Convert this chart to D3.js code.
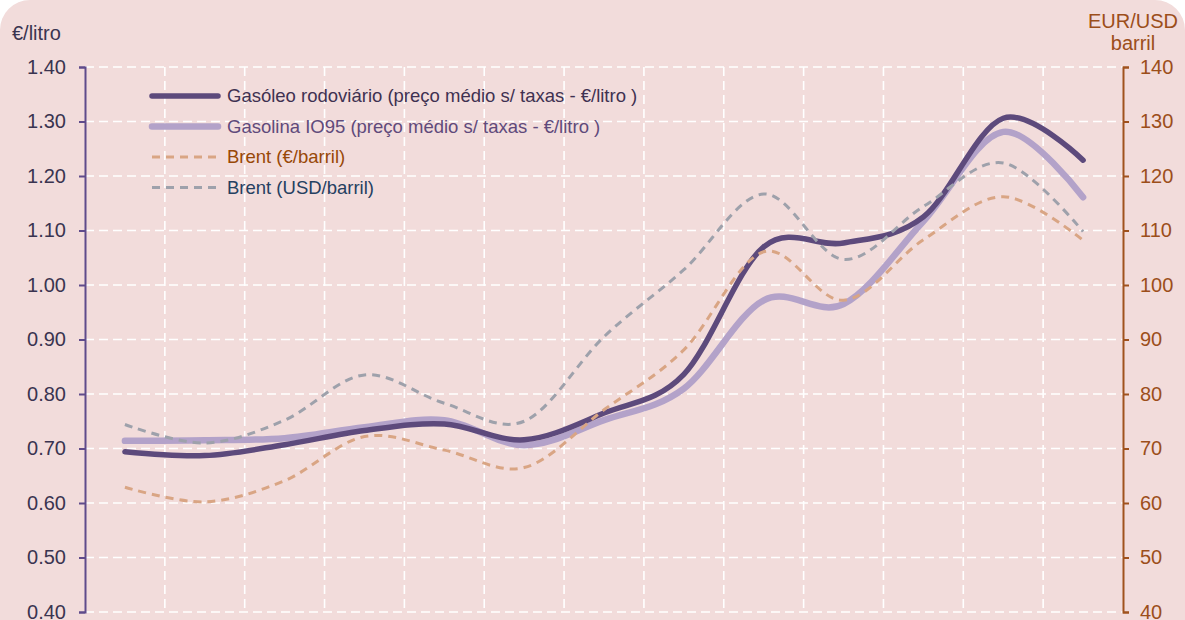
<!DOCTYPE html>
<html>
<head>
<meta charset="utf-8">
<script src="https://cdn.jsdelivr.net/npm/d3@7"></script>
<style>
  body { margin: 0; background: #fff; }
  svg { display: block; font-family: "Liberation Sans", Arial, sans-serif; }
</style>
</head>
<body>
<div id="chart"></div>
<script>
// data (x labels are not visible in the picture, 13 periods)
const categories = ["P1", "P2", "P3", "P4", "P5", "P6", "P7", "P8", "P9", "P10", "P11", "P12", "P13"];
const gasoleo = [0.694, 0.687, 0.707, 0.733, 0.745, 0.716, 0.765, 0.836, 1.07, 1.077, 1.125, 1.306, 1.229];
const gasolina = [0.714, 0.715, 0.719, 0.739, 0.752, 0.706, 0.752, 0.81, 0.972, 0.965, 1.117, 1.281, 1.161];
const brentEur = [62.9, 60.2, 64.1, 72.2, 69.7, 66.5, 77.1, 88.1, 106.1, 97.2, 108.3, 116.2, 108.2];
const brentUsd = [74.4, 71.0, 75.2, 83.5, 78.3, 75.0, 90.5, 102.8, 116.7, 104.7, 114.4, 122.4, 109.8];
const leftTicks = [0.4, 0.5, 0.6, 0.7, 0.8, 0.9, 1.0, 1.1, 1.2, 1.3, 1.4];
const rightTicks = [40, 50, 60, 70, 80, 90, 100, 110, 120, 130, 140];

const W = 1185, H = 620;
const LEFT = 85, RIGHT = 1123, TOP = 67, BOTTOM = 612;

const svg = d3.select("#chart").append("svg")
  .attr("width", W)
  .attr("height", H);

// chart area with rounded corners
svg.append("rect")
  .attr("x", 0).attr("y", 0)
  .attr("width", W).attr("height", H + 40)
  .attr("rx", 30).attr("ry", 30)
  .attr("fill", "#f2dcdb");

const x = d3.scaleBand().domain(categories).range([LEFT, RIGHT]);
const yL = d3.scaleLinear().domain([0.4, 1.4]).range([BOTTOM, TOP]);
const yR = d3.scaleLinear().domain([40, 140]).range([BOTTOM, TOP]);
const cx = d => x(d) + x.bandwidth() / 2;

// gridlines
const grid = svg.append("g")
  .attr("stroke", "#ffffff")
  .attr("stroke-width", 1.6)
  .attr("stroke-dasharray", "9,5");

grid.selectAll("line.h")
  .data(leftTicks)
  .join("line")
    .attr("class", "h")
    .attr("x1", LEFT).attr("x2", RIGHT)
    .attr("y1", d => yL(d)).attr("y2", d => yL(d));

grid.selectAll("line.v")
  .data(categories.slice(1))
  .join("line")
    .attr("class", "v")
    .attr("x1", d => x(d)).attr("x2", d => x(d))
    .attr("y1", TOP).attr("y2", BOTTOM);

// axes
const leftAxis = svg.append("g")
  .attr("transform", `translate(${LEFT},0)`)
  .call(d3.axisLeft(yL).tickValues(leftTicks).tickFormat(d3.format(".2f")).tickSizeInner(6).tickSizeOuter(6).tickPadding(13));
leftAxis.select(".domain").attr("stroke", "#5f4b8b").attr("stroke-width", 2);
leftAxis.selectAll(".tick line").attr("stroke", "#5f4b8b").attr("stroke-width", 2);
leftAxis.selectAll(".tick text").attr("fill", "#3a3450").attr("font-size", 20)
  .attr("font-family", "'Liberation Sans', Arial, sans-serif");

const rightAxis = svg.append("g")
  .attr("transform", `translate(${RIGHT},0)`)
  .call(d3.axisRight(yR).tickValues(rightTicks).tickSizeInner(6).tickSizeOuter(6).tickPadding(11));
rightAxis.select(".domain").attr("stroke", "#a0521e").attr("stroke-width", 2);
rightAxis.selectAll(".tick line").attr("stroke", "#a0521e").attr("stroke-width", 2);
rightAxis.selectAll(".tick text").attr("fill", "#9c4e1a").attr("font-size", 20)
  .attr("font-family", "'Liberation Sans', Arial, sans-serif");

// axis titles
svg.append("text")
  .attr("x", 12).attr("y", 40)
  .attr("font-size", 20)
  .attr("fill", "#3a3450")
  .text("€/litro");

svg.append("text")
  .attr("x", 1133).attr("y", 28)
  .attr("font-size", 20)
  .attr("text-anchor", "middle")
  .attr("fill", "#9c4e1a")
  .text("EUR/USD");
svg.append("text")
  .attr("x", 1133).attr("y", 50)
  .attr("font-size", 20)
  .attr("text-anchor", "middle")
  .attr("fill", "#9c4e1a")
  .text("barril");

// series
const series = [
  { name: "Gasolina IO95 (preço médio s/ taxas - €/litro )", values: gasolina, scale: yL, color: "#b3a2c9", width: 6.5, dash: null, text: "#604a7b" },
  { name: "Gasóleo rodoviário (preço médio s/ taxas - €/litro )", values: gasoleo, scale: yL, color: "#5d4a7c", width: 5.5, dash: null, text: "#3f3151" },
  { name: "Brent (€/barril)", values: brentEur, scale: yR, color: "#d9a584", width: 3, dash: "8,6", text: "#984807" },
  { name: "Brent (USD/barril)", values: brentUsd, scale: yR, color: "#9ea1ab", width: 3, dash: "8,6", text: "#254061" }
];

const lineGen = (s) => d3.line()
  .x((d, i) => cx(categories[i]))
  .y(d => s.scale(d))
  .curve(d3.curveCardinal.tension(0));

svg.append("g").selectAll("path")
  .data(series)
  .join("path")
    .attr("d", s => lineGen(s)(s.values))
    .attr("fill", "none")
    .attr("stroke", s => s.color)
    .attr("stroke-width", s => s.width)
    .attr("stroke-linecap", s => s.dash ? "butt" : "round")
    .attr("stroke-dasharray", s => s.dash);

// legend
const legendOrder = [series[1], series[0], series[2], series[3]];
const legend = svg.append("g").selectAll("g")
  .data(legendOrder)
  .join("g")
    .attr("transform", (d, i) => `translate(150, ${96 + i * 30.5})`);

legend.append("line")
  .attr("x1", 2).attr("x2", 68)
  .attr("stroke", d => d.color)
  .attr("stroke-width", d => d.dash ? 3 : d.width)
  .attr("stroke-linecap", d => d.dash ? "butt" : "round")
  .attr("stroke-dasharray", d => d.dash ? "8,6" : null);

legend.append("text")
  .attr("x", 77).attr("dy", "0.35em")
  .attr("font-size", 18.5)
  .attr("fill", d => d.text)
  .text(d => d.name);
</script>
</body>
</html>
